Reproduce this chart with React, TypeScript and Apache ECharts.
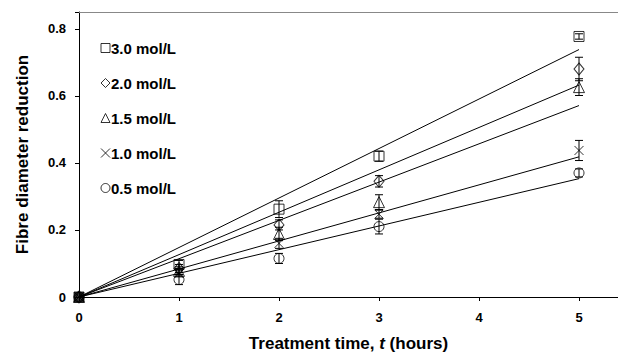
import React, { useEffect, useRef } from "react";
import * as echarts from "echarts";

const times = [0, 1, 2, 3, 5];
const seriesNames = ["3.0 mol/L", "2.0 mol/L", "1.5 mol/L", "1.0 mol/L", "0.5 mol/L"];
const v30 = [0, 0.097, 0.262, 0.42, 0.777];
const v20 = [0, 0.085, 0.215, 0.345, 0.68];
const v15 = [0, 0.078, 0.188, 0.283, 0.626];
const v10 = [0, 0.07, 0.16, 0.247, 0.437];
const v05 = [0, 0.052, 0.115, 0.21, 0.37];
const e30 = [0, 0.012, 0.025, 0.015, 0.008];
const e20 = [0, 0.012, 0.015, 0.017, 0.035];
const e15 = [0, 0.012, 0.02, 0.022, 0.025];
const e10 = [0, 0.01, 0.015, 0.012, 0.03];
const e05 = [0, 0.015, 0.015, 0.022, 0.012];
// fitted lines through the origin, value reached at t = 5
const fitEnd = [0.738, 0.632, 0.571, 0.418, 0.353];
const fitT = [0, 5];
const xTicks = [0, 1, 2, 3, 4, 5];
const yTicks = [0, 0.2, 0.4, 0.6, 0.8];

const values = [v30, v20, v15, v10, v05];
const errors = [e30, e20, e15, e10, e05];
const symbols = [
  "rect",
  "diamond",
  "triangle",
  "path://M0,0L10,10M10,0L0,10",
  "circle",
];
const symbolSizes: any[] = [10, [10, 12], [11, 11], 9, 10];

const FONT = "'Liberation Sans', Arial, sans-serif";
const CLEAR = "rgba(0,0,0,0)";

export default function App() {
  const ref = useRef<HTMLDivElement>(null);
  useEffect(() => {
    const chart = echarts.init(ref.current!, null, { renderer: "svg" });
    const series: any[] = [];
    fitEnd.forEach((end, i) => {
      series.push({
        type: "line",
        name: "fit" + i,
        data: fitT.map((t) => [t, (end / 5) * t]),
        symbol: "none",
        lineStyle: { color: "#000", width: 1 },
        z: 2,
      });
    });
    values.forEach((vals, i) => {
      series.push({
        type: "custom",
        name: "err" + i,
        data: times.map((t, j) => [t, vals[j], errors[i][j]]),
        renderItem: (params: any, api: any) => {
          const x = api.value(0);
          const y = api.value(1);
          const e = api.value(2);
          if (!e) return null;
          const top = api.coord([x, y + e]);
          const bot = api.coord([x, y - e]);
          const st = { stroke: "#000", lineWidth: 1 };
          return {
            type: "group",
            children: [
              { type: "line", shape: { x1: top[0], y1: top[1], x2: bot[0], y2: bot[1] }, style: st },
              { type: "line", shape: { x1: top[0] - 4, y1: top[1], x2: top[0] + 4, y2: top[1] }, style: st },
              { type: "line", shape: { x1: bot[0] - 4, y1: bot[1], x2: bot[0] + 4, y2: bot[1] }, style: st },
            ],
          };
        },
        z: 3,
      });
    });
    values.forEach((vals, i) => {
      series.push({
        type: "scatter",
        name: seriesNames[i],
        data: times.map((t, j) =>
          i === 0 && t === 0
            ? { value: [t, vals[j]], itemStyle: { color: "#000" } }
            : [t, vals[j]]
        ),
        symbol: symbols[i],
        symbolSize: symbolSizes[i],
        itemStyle: { color: CLEAR, borderColor: "#000", borderWidth: 1 },
        z: i === 0 ? 5 : 4,
      });
    });

    chart.setOption({
      animation: false,
      textStyle: { fontFamily: FONT },
      grid: { left: 79, top: 12, right: 0, bottom: 56 },
      legend: {
        data: seriesNames,
        orient: "vertical",
        left: 95.5,
        top: 35.5,
        itemWidth: 9,
        itemHeight: 9,
        itemGap: 20,
        itemStyle: { color: CLEAR, borderColor: "#000", borderWidth: 1 },
        textStyle: { fontFamily: FONT, fontWeight: "bold", fontSize: 15, color: "#000", padding: [0, 0, 0, -4] },
      },
      xAxis: [
        {
          type: "value",
          min: xTicks[0],
          max: 5.39,
          interval: 1,
          axisLine: { lineStyle: { color: "#000", width: 1 } },
          axisTick: { show: true, length: 4, lineStyle: { color: "#000" } },
          splitLine: { show: false },
          axisLabel: {
            color: "#000",
            fontWeight: "bold",
            fontSize: 13,
            fontFamily: FONT,
            margin: 14,
            showMaxLabel: false,
            formatter: (v: number) => (xTicks.includes(v) ? String(v) : ""),
          },
          name: "{a|Treatment time, }{b|t}{a| (hours)}",
          nameLocation: "middle",
          nameGap: 38,
          nameTextStyle: {
            rich: {
              a: { fontFamily: FONT, fontWeight: "bold", fontSize: 17, color: "#000" },
              b: { fontFamily: FONT, fontWeight: "bold", fontStyle: "italic", fontSize: 17, color: "#000" },
            },
          },
        },
        {
          type: "value",
          position: "top",
          min: 0,
          max: 5.39,
          axisLine: { show: true, lineStyle: { color: "#888", width: 1 } },
          axisTick: { show: false },
          axisLabel: { show: false },
          splitLine: { show: false },
        },
      ],
      yAxis: {
        type: "value",
        min: yTicks[0],
        max: 0.85,
        interval: 0.2,
        axisLine: { show: true, lineStyle: { color: "#000", width: 1 } },
        axisTick: { show: true, length: 4, lineStyle: { color: "#000" } },
        splitLine: { show: false },
        axisLabel: {
          color: "#000",
          fontWeight: "bold",
          fontSize: 13,
          fontFamily: FONT,
          margin: 13,
          formatter: (v: number) => {
            const m = yTicks.find((t) => Math.abs(t - v) < 1e-6);
            if (m === undefined) return "";
            return m === 0 ? "0" : m.toFixed(1);
          },
        },
        name: "Fibre diameter reduction",
        nameLocation: "middle",
        nameGap: 48,
        nameTextStyle: { fontFamily: FONT, fontWeight: "bold", fontSize: 17, color: "#000" },
      },
      series,
    });
    return () => chart.dispose();
  }, []);
  return <div ref={ref} style={{ width: 618, height: 357, position: "absolute", left: 0, top: 0 }} />;
}
